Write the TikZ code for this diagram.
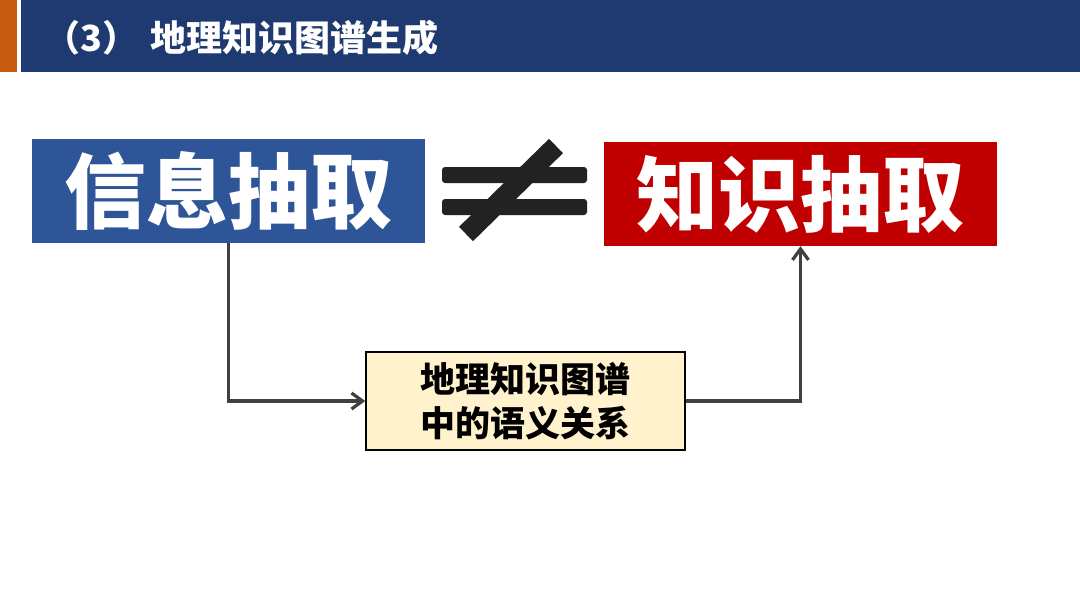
\documentclass[tikz,border=0pt]{standalone}
\usepackage{fontspec}
\newfontfamily\cjk{Noto Sans CJK SC}
\usetikzlibrary{arrows.meta}
\definecolor{hdrblue}{HTML}{1F3A70}
\definecolor{hdrorange}{HTML}{C55A11}
\definecolor{boxblue}{HTML}{2E5597}
\definecolor{boxred}{HTML}{C00000}
\definecolor{midfill}{HTML}{FFF2CC}
\definecolor{conn}{HTML}{404040}
\definecolor{neqc}{HTML}{222222}
\tikzset{
  bigbox/.style={rectangle, minimum width=393pt, minimum height=104pt, inner sep=0pt,
    text=white, font=\cjk\bfseries\fontsize{82}{90}\selectfont},
  midbox/.style={rectangle, draw=black, line width=1.5pt, fill=midfill, minimum width=319pt,
    minimum height=98pt, inner sep=0pt, align=center, font=\cjk\bfseries\fontsize{35}{44}\selectfont},
  connline/.style={draw=conn, line width=3.2pt, -{Straight Barb[length=11pt,width=16pt,line width=3.2pt]}},
}
\begin{document}
\begin{tikzpicture}[x=1pt,y=-1pt]
\useasboundingbox (0,0) rectangle (1080,608);
\fill[white] (0,0) rectangle (1080,608);
% header
\fill[hdrorange] (0,0) rectangle (17,72);
\fill[hdrblue] (21,0) rectangle (1080,72);
\node[anchor=west, text=white, inner sep=0pt, font=\cjk\bfseries\fontsize{36}{40}\selectfont] (title) at (44,38) {（3）\hspace{12pt}地理知识图谱生成};
% boxes
\node[bigbox, fill=boxblue] (info) at (228.5,191) {信息抽取};
\node[bigbox, fill=boxred] (know) at (800.5,194) {知识抽取};
\node[midbox] (mid) at (525.5,401) {地理知识图谱\\中的语义关系};
% not equal sign
\fill[neqc, rounded corners=3pt] (442,167) rectangle (587,183);
\fill[neqc, rounded corners=3pt] (442,199) rectangle (587,215);
\draw[neqc, line width=20pt] (466,234) -- (556,146);
% connectors
\draw[connline] (info.south) |- (mid.west);
\draw[connline] (mid.east) -| (know.south);
\end{tikzpicture}
\end{document}
